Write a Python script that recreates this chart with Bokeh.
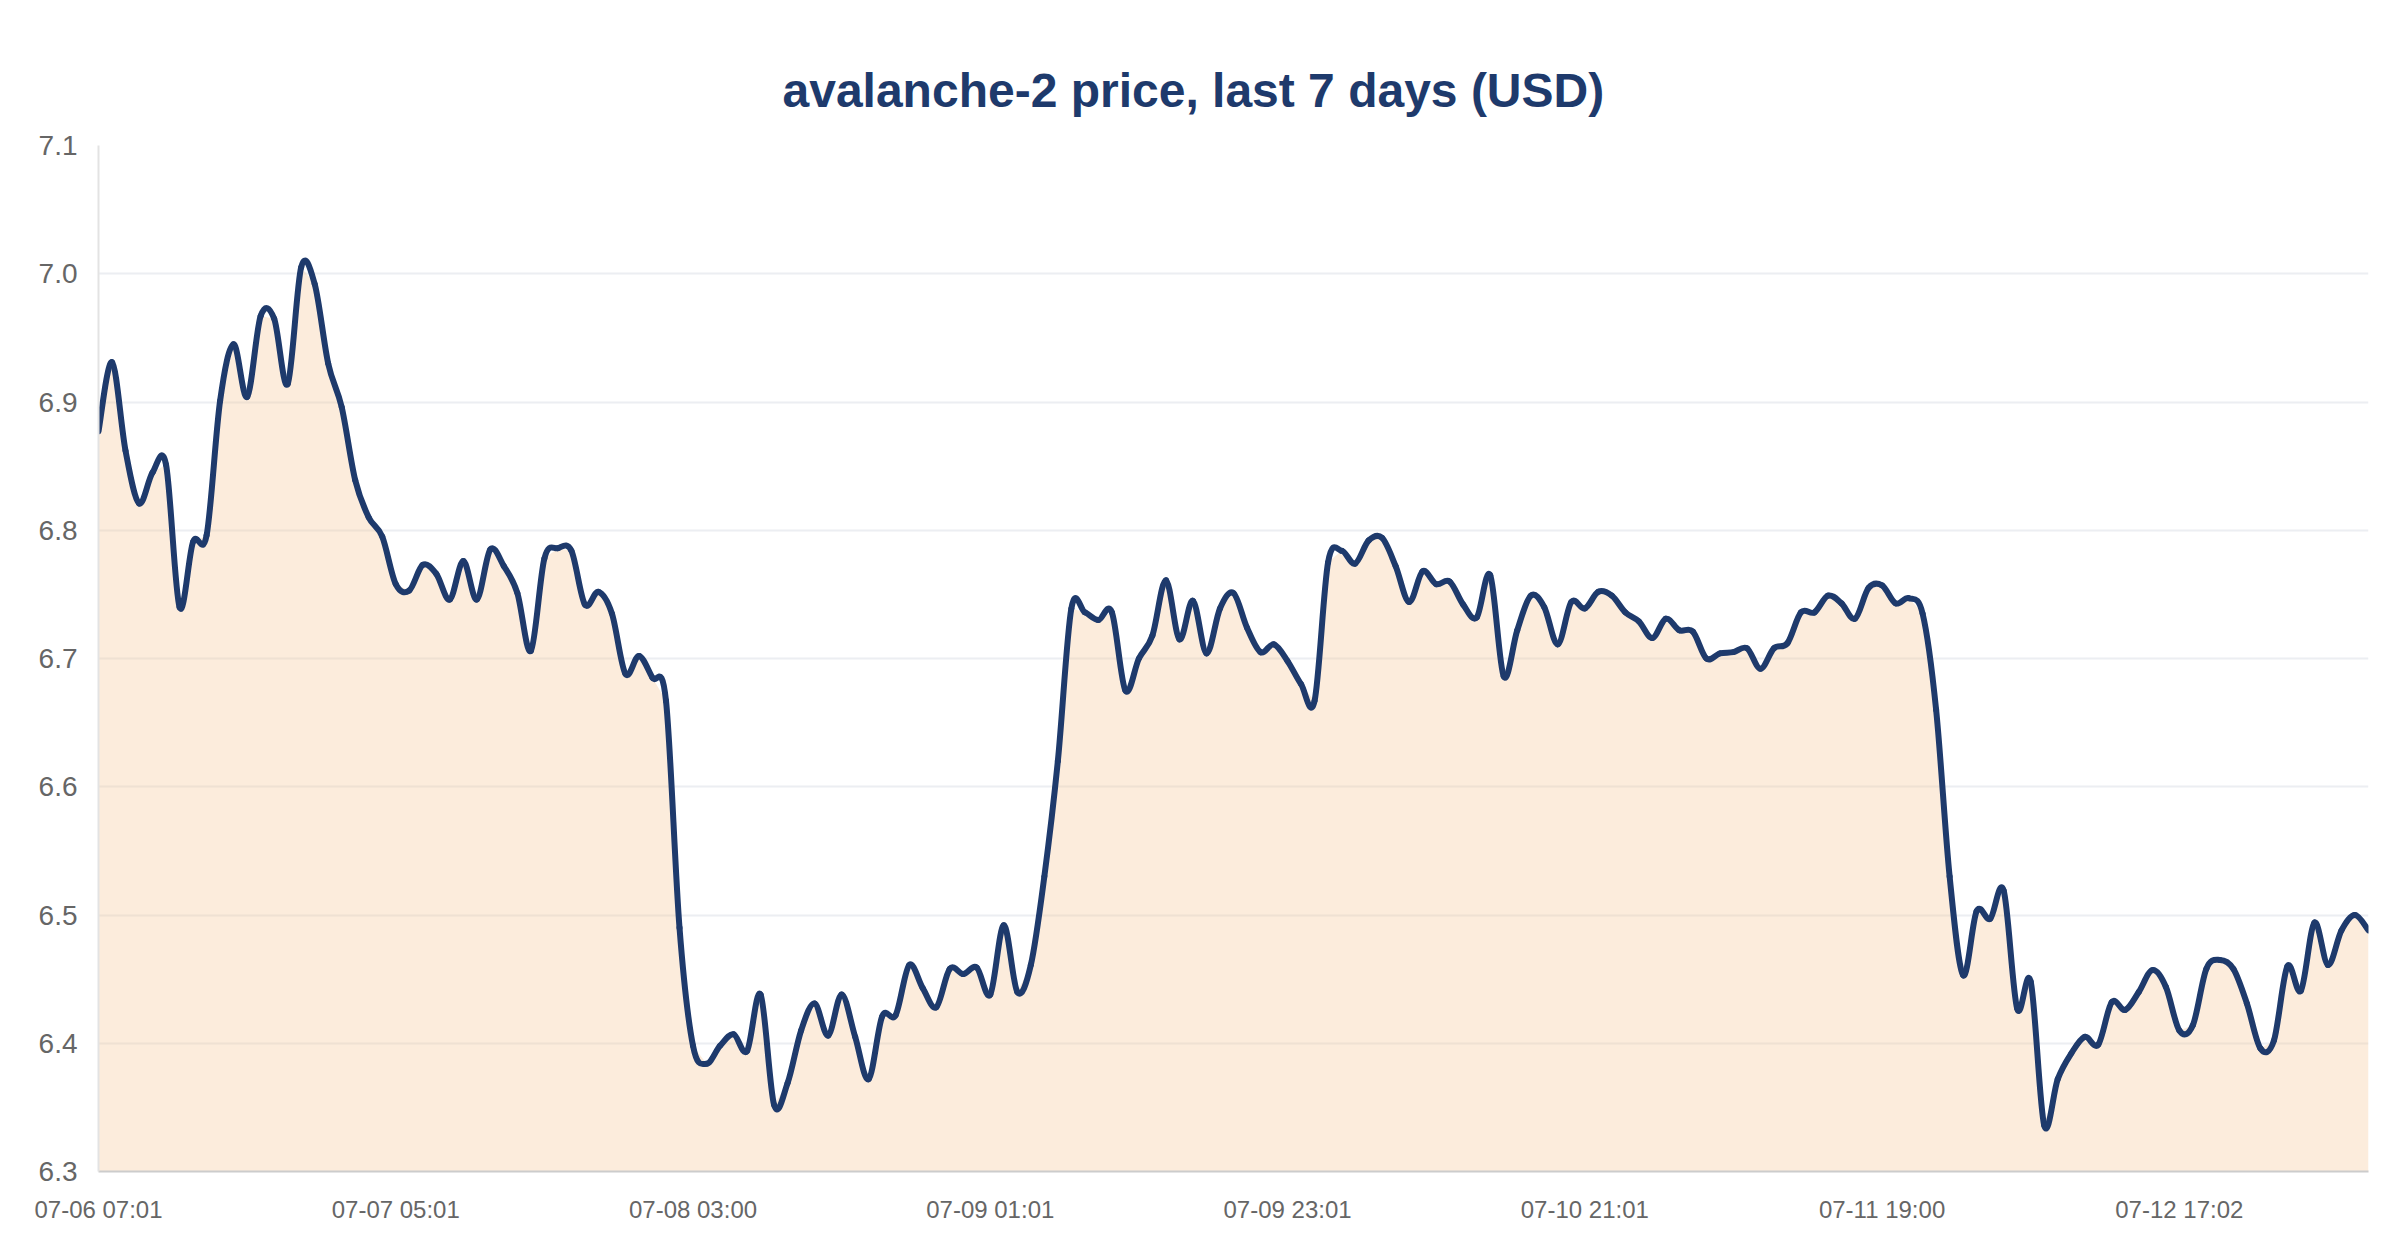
from bokeh.plotting import figure
from bokeh.models import FixedTicker, Range1d
from bokeh.embed import file_html
from bokeh.resources import INLINE

# hourly samples, starting 07-06 07:01
hours = list(range(169))
price = [
    6.877, 6.931, 6.862, 6.821, 6.845, 6.851, 6.740, 6.791, 6.796, 6.901,
    6.945, 6.904, 6.967, 6.965, 6.914, 7.005, 6.992, 6.930, 6.896, 6.839,
    6.810, 6.795, 6.758, 6.753, 6.773, 6.766, 6.746, 6.776, 6.746, 6.785,
    6.772, 6.751, 6.706, 6.778, 6.786, 6.784, 6.742, 6.752, 6.735, 6.688,
    6.702, 6.685, 6.667, 6.490, 6.398, 6.384, 6.398, 6.407, 6.394, 6.438,
    6.352, 6.369, 6.410, 6.431, 6.406, 6.438, 6.405, 6.372, 6.421, 6.422,
    6.461, 6.443, 6.428, 6.458, 6.454, 6.459, 6.438, 6.492, 6.440, 6.461,
    6.530, 6.620, 6.739, 6.736, 6.730, 6.736, 6.675, 6.700, 6.718, 6.761,
    6.715, 6.745, 6.704, 6.739, 6.751, 6.724, 6.705, 6.711, 6.698, 6.680,
    6.667, 6.775, 6.784, 6.774, 6.792, 6.794, 6.772, 6.744, 6.768, 6.758,
    6.760, 6.742, 6.732, 6.765, 6.686, 6.722, 6.749, 6.740, 6.711, 6.744,
    6.739, 6.752, 6.749, 6.736, 6.729, 6.716, 6.731, 6.722, 6.721, 6.700,
    6.704, 6.705, 6.708, 6.692, 6.708, 6.712, 6.736, 6.736, 6.749, 6.743,
    6.731, 6.755, 6.757, 6.743, 6.747, 6.735, 6.660, 6.530, 6.453, 6.503,
    6.497, 6.519, 6.427, 6.448, 6.336, 6.372, 6.392, 6.405, 6.399, 6.432,
    6.426, 6.440, 6.457, 6.444, 6.410, 6.414, 6.458, 6.465, 6.458, 6.431,
    6.396, 6.402, 6.460, 6.441, 6.494, 6.461, 6.488, 6.500, 6.488,
]
tick_labels = ["07-06 07:01", "07-07 05:01", "07-08 03:00", "07-09 01:01",
               "07-09 23:01", "07-10 21:01", "07-11 19:00", "07-12 17:02"]
tick_step = 22
y_ticks = [6.3, 6.4, 6.5, 6.6, 6.7, 6.8, 6.9, 7.0, 7.1]

title_text = "avalanche-2 price, last 7 days  (USD)"
navy = "#1e3a6c"

p = figure(width=2400, height=1260, output_backend="svg", toolbar_location=None,
           x_range=Range1d(hours[0], hours[-1]), y_range=Range1d(y_ticks[0], y_ticks[-1]),
           min_border_left=98, min_border_right=32, min_border_top=145, min_border_bottom=89,
           background_fill_color="white", border_fill_color="white")
p.outline_line_color = None

p.title.text = title_text
p.title.align = "left"
p.title.offset = 684
p.title.text_font = "Liberation Sans"
p.title.text_font_style = "bold"
p.title.text_font_size = "48px"
p.title.text_color = navy
p.title.standoff = 58

# area under the series
p.varea(x=hours, y1=[0] * len(hours), y2=price, fill_color="#f5c99a", fill_alpha=0.35)

# smoothed series line: cubic segments (uniform Catmull-Rom) through the data points
n = len(hours)
x0, y0, x1, y1, cx0, cy0, cx1, cy1 = ([] for _ in range(8))
for i in range(n - 1):
    a = max(i - 1, 0)
    d = min(i + 2, n - 1)
    x0.append(hours[i]); y0.append(price[i])
    x1.append(hours[i + 1]); y1.append(price[i + 1])
    cx0.append(hours[i] + (hours[i + 1] - hours[a]) / 6)
    cy0.append(price[i] + (price[i + 1] - price[a]) / 6)
    cx1.append(hours[i + 1] - (hours[d] - hours[i]) / 6)
    cy1.append(price[i + 1] - (price[d] - price[i]) / 6)
p.bezier(x0=x0, y0=y0, x1=x1, y1=y1, cx0=cx0, cy0=cy0, cx1=cx1, cy1=cy1,
         line_color=navy, line_width=6, line_cap="round")

ticks = [i * tick_step for i in range(len(tick_labels))]
p.xaxis.ticker = FixedTicker(ticks=ticks)
p.xaxis.major_label_overrides = {t: lab for t, lab in zip(ticks, tick_labels)}
p.yaxis.ticker = FixedTicker(ticks=y_ticks)
p.yaxis.major_label_overrides = {t: f"{t:.1f}" for t in y_ticks}

for ax in (p.xaxis, p.yaxis):
    ax.major_tick_line_color = None
    ax.minor_tick_line_color = None
    ax.major_label_text_font = "Liberation Sans"
    ax.major_label_text_color = "#666666"
p.xaxis.major_label_text_font_size = "24px"
p.yaxis.major_label_text_font_size = "28px"
p.xaxis.major_label_standoff = 18
p.yaxis.major_label_standoff = 15
p.xaxis.axis_line_color = "#cccccc"
p.xaxis.axis_line_width = 2
p.yaxis.axis_line_color = "#e3e3e3"
p.yaxis.axis_line_width = 2

p.xgrid.grid_line_color = None
p.ygrid.grid_line_color = "#eceef2"
p.ygrid.grid_line_width = 2

open("out.html", "w").write(file_html(p, INLINE))
